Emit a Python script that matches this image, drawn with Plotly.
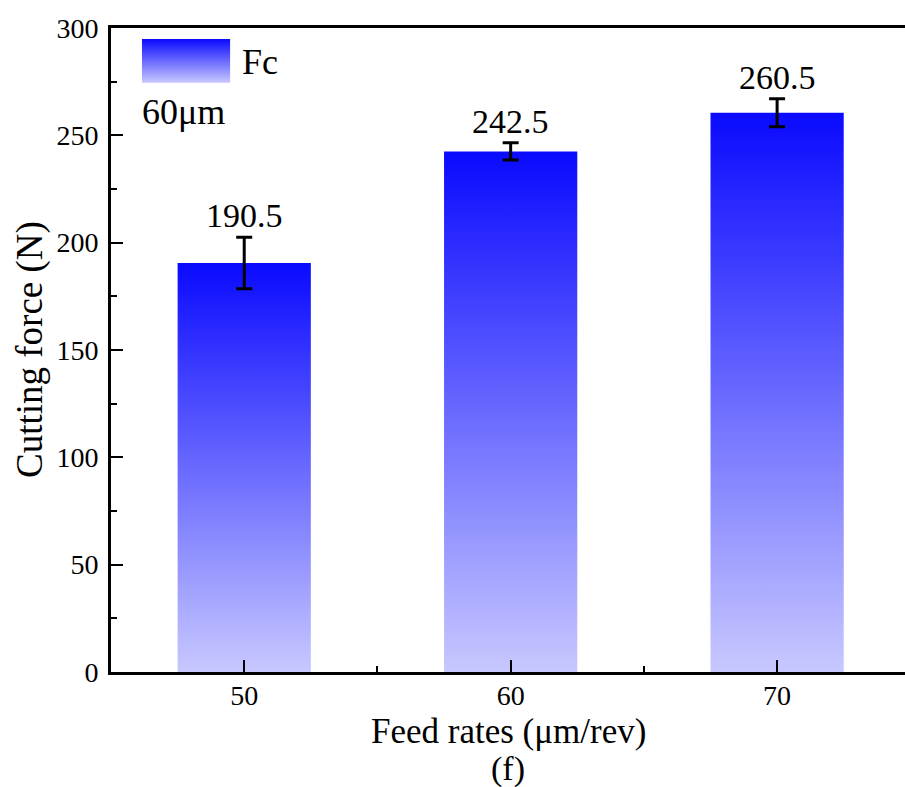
import plotly.graph_objects as go

feed_rates = [50, 60, 70]
cutting_force = [190.5, 242.5, 260.5]
force_error = [12.0, 4.0, 6.5]
value_labels = ["190.5", "242.5", "260.5"]
series_name = "Fc"
depth_label = "60μm"

BAR_WIDTH = 5.0
LIGHT = "rgb(200,200,255)"
DEEP = "rgb(10,10,255)"
FONT = "Liberation Serif"

fig = go.Figure()

# gradient-filled bars (each bar scaled to its own height)
for x, v in zip(feed_rates, cutting_force):
    x0, x1 = x - BAR_WIDTH / 2, x + BAR_WIDTH / 2
    fig.add_trace(go.Scatter(
        x=[x0, x1, x1, x0, x0], y=[0, 0, v, v, 0],
        mode="lines", line=dict(width=0), fill="toself",
        fillgradient=dict(type="vertical", colorscale=[[0, LIGHT], [1, DEEP]]),
        hoverinfo="skip", showlegend=False))

# error bars
fig.add_trace(go.Scatter(
    x=feed_rates, y=cutting_force, mode="markers",
    marker=dict(size=1, color="rgba(0,0,0,0)"),
    error_y=dict(type="data", array=force_error, color="black", thickness=3, width=8),
    showlegend=False))

# value labels
for x, v, e, t in zip(feed_rates, cutting_force, force_error, value_labels):
    fig.add_annotation(x=x, y=v + e, text=t, showarrow=False, yanchor="bottom",
                       yshift=1, font=dict(family=FONT, size=34, color="black"))

# legend swatch on an overlay axis
fig.add_trace(go.Scatter(
    x=[0.039, 0.15, 0.15, 0.039, 0.039], y=[0.915, 0.915, 0.983, 0.983, 0.915],
    xaxis="x2", yaxis="y2", mode="lines", line=dict(width=0), fill="toself",
    fillgradient=dict(type="vertical", colorscale=[[0, LIGHT], [1, DEEP]]),
    hoverinfo="skip", showlegend=False))
fig.add_annotation(xref="paper", yref="paper", x=0.163, y=0.947, text=series_name,
                   showarrow=False, xanchor="left", yanchor="middle",
                   font=dict(family=FONT, size=36, color="black"))
fig.add_annotation(xref="paper", yref="paper", x=0.036, y=0.870, text=depth_label,
                   showarrow=False, xanchor="left", yanchor="middle",
                   font=dict(family=FONT, size=36, color="black"))

# axis titles and panel label
fig.add_annotation(xref="paper", yref="paper", x=0.5, y=-0.093, text="Feed rates (μm/rev)",
                   showarrow=False, xanchor="center", yanchor="middle",
                   font=dict(family=FONT, size=35, color="black"))
fig.add_annotation(xref="paper", yref="paper", x=0.5, y=-0.150, text="(f)",
                   showarrow=False, xanchor="center", yanchor="middle",
                   font=dict(family=FONT, size=34, color="black"))
fig.add_annotation(xref="paper", yref="paper", x=-0.102, y=0.5, text="Cutting force (N)",
                   textangle=-90, showarrow=False, xanchor="center", yanchor="middle",
                   font=dict(family=FONT, size=37, color="black"))

fig.update_layout(
    width=905, height=787,
    margin=dict(l=111, r=0, t=28, b=115, autoexpand=False),
    plot_bgcolor="white", paper_bgcolor="white",
    font=dict(family=FONT, color="black"),
    xaxis=dict(range=[45, 74.8], tickmode="array", tickvals=feed_rates,
               ticks="inside", ticklen=12, tickwidth=2, tickcolor="black",
               minor=dict(tickmode="array", tickvals=[55, 65], ticks="inside",
                          ticklen=6, tickwidth=2, tickcolor="black"),
               showline=True, linewidth=3, linecolor="black", mirror=True,
               showgrid=False, zeroline=False, ticklabelstandoff=-4,
               tickfont=dict(family=FONT, size=28)),
    yaxis=dict(range=[0, 300], dtick=50, ticks="inside", ticklen=12, tickwidth=2,
               tickcolor="black",
               minor=dict(dtick=25, ticks="inside", ticklen=6, tickwidth=2,
                          tickcolor="black"),
               showline=True, linewidth=3, linecolor="black", mirror=False,
               showgrid=False, zeroline=False, ticklabelstandoff=4,
               tickfont=dict(family=FONT, size=28)),
    xaxis2=dict(range=[0, 1], domain=[0, 1], visible=False, overlaying="x"),
    yaxis2=dict(range=[0, 1], domain=[0, 1], visible=False, overlaying="y", anchor="x2"),
)

post = ("document.body.style.margin='0';document.body.style.overflow='hidden';"
        "var gd=document.getElementById('{plot_id}');"
        "Plotly.relayout(gd,{width:905,height:787});")
fig.write_html("out.html", post_script=post, config={"displayModeBar": False})
